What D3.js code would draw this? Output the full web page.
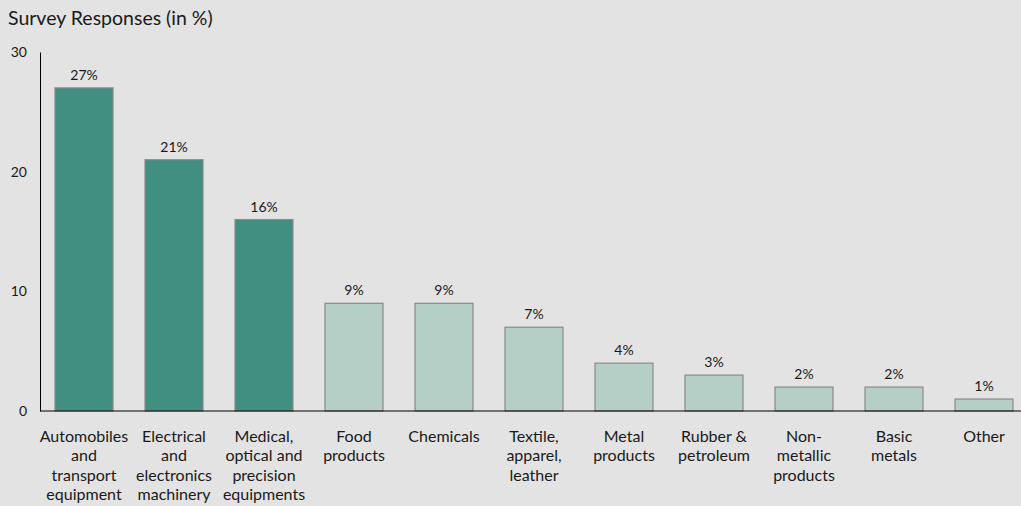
<!DOCTYPE html>
<html>
<head>
<meta charset="utf-8">
<script src="https://cdn.jsdelivr.net/npm/d3@7"></script>
<style>
  html, body { margin: 0; padding: 0; background: #e3e3e3; }
  svg { display: block; font-family: Lato, "Open Sans", sans-serif; }
</style>
</head>
<body>
<svg id="chart" width="1021" height="506"></svg>
<script>
// Share of survey responses by industry
const categories = [
  ["Automobiles", "and", "transport", "equipment"],
  ["Electrical", "and", "electronics", "machinery"],
  ["Medical,", "optical and", "precision", "equipments"],
  ["Food", "products"],
  ["Chemicals"],
  ["Textile,", "apparel,", "leather"],
  ["Metal", "products"],
  ["Rubber &", "petroleum"],
  ["Non-", "metallic", "products"],
  ["Basic", "metals"],
  ["Other"]
];
const values = [27, 21, 16, 9, 9, 7, 4, 3, 2, 2, 1];
const highlighted = [true, true, true, false, false, false, false, false, false, false, false];
const yTicks = [0, 10, 20, 30];

const svg = d3.select("#chart");
const W = 1021;
const left = 40, baseY = 411, topY = 52;

const x = d3.scaleBand()
  .domain(d3.range(categories.length))
  .range([39, 1029])
  .paddingInner(0.356)
  .paddingOuter(0.178);

const y = d3.scaleLinear().domain([0, 30]).range([baseY, topY]);

// Title
svg.append("text")
  .attr("x", 8).attr("y", 25)
  .attr("font-size", 19.5)
  .attr("fill", "#1a1a1a")
  .text("Survey Responses (in %)");

// Y axis
const yAxis = d3.axisLeft(y).tickValues(yTicks).tickSize(0).tickPadding(13);
const gy = svg.append("g").attr("transform", `translate(${left},0)`).call(yAxis);
gy.select(".domain").attr("stroke", "#000").attr("stroke-width", 1);
gy.selectAll("text").attr("font-size", 14).attr("fill", "#1a1a1a").attr("font-family", "Lato, sans-serif");

// Bars
svg.append("g").selectAll("rect")
  .data(values)
  .join("rect")
  .attr("x", (d, i) => x(i))
  .attr("width", x.bandwidth())
  .attr("y", d => y(d))
  .attr("height", d => baseY - y(d))
  .attr("fill", (d, i) => highlighted[i] ? "#418f80" : "#b5cec6")
  .attr("stroke", "#8a8a8a")
  .attr("stroke-width", 1.2);

// Baseline
svg.append("line")
  .attr("x1", left).attr("x2", W)
  .attr("y1", baseY).attr("y2", baseY)
  .attr("stroke", "#000").attr("stroke-width", 1.2);

// Value labels
svg.append("g").selectAll("text")
  .data(values)
  .join("text")
  .attr("x", (d, i) => x(i) + x.bandwidth() / 2)
  .attr("y", d => y(d) - 8)
  .attr("text-anchor", "middle")
  .attr("font-size", 14)
  .attr("fill", "#1a1a1a")
  .text(d => d + "%");

// Category labels
const cat = svg.append("g").selectAll("text")
  .data(categories)
  .join("text")
  .attr("text-anchor", "middle")
  .attr("font-size", 16)
  .attr("fill", "#1a1a1a");
cat.each(function(lines, i) {
  d3.select(this).selectAll("tspan")
    .data(lines)
    .join("tspan")
    .attr("x", x(i) + x.bandwidth() / 2)
    .attr("y", (l, k) => 442 + k * 19.4)
    .text(l => l);
});
</script>
</body>
</html>
